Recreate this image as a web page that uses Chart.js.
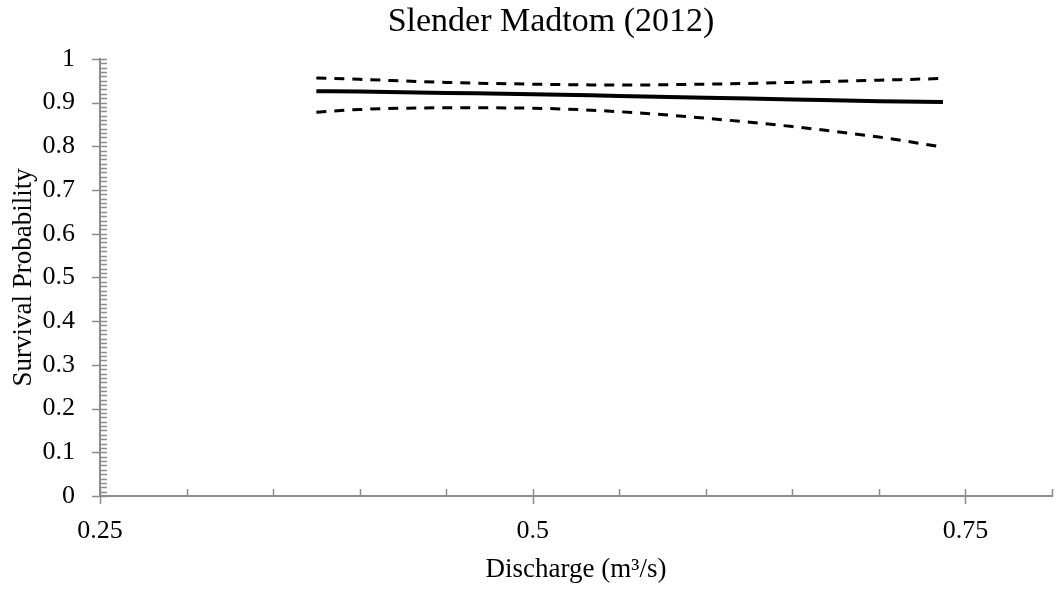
<!DOCTYPE html>
<html>
<head>
<meta charset="utf-8">
<title>Slender Madtom (2012)</title>
<script src="https://cdn.jsdelivr.net/npm/chart.js@4/dist/chart.umd.min.js"></script>
<style>
  html, body { margin: 0; padding: 0; background: #fff; }
  #wrap { width: 1056px; height: 589px; }
</style>
</head>
<body>
<div id="wrap"><canvas id="chart" width="1056" height="589"></canvas></div>
<script>
// discharge values (m3/s) where the curves were read
const discharge = [0.375, 0.4, 0.45, 0.5, 0.55, 0.6, 0.65, 0.7, 0.737];
// survival estimate and its upper/lower bounds
const survival = [0.926, 0.925, 0.922, 0.919, 0.915, 0.911, 0.907, 0.903, 0.901];
const upperBound = [0.956, 0.953, 0.946, 0.942, 0.940, 0.942, 0.946, 0.951, 0.955];
const lowerBound = [0.878, 0.884, 0.888, 0.887, 0.879, 0.864, 0.845, 0.821, 0.798];

// axis ranges and tick steps
const xMin = 0.25, xMax = 0.8, xMinorStep = 0.05, xMajorStep = 0.25;
const yMin = 0, yMax = 1, yMajorStep = 0.1, yMinorStep = 0.01;

const AXIS_COLOR = '#8c8c8c';
const FONT = "'Liberation Serif', 'Times New Roman', serif";

const isMultiple = (v, step) => Math.abs(v / step - Math.round(v / step)) < 1e-6;

const toPoints = ys => discharge.map((d, i) => ({ x: d, y: ys[i] }));

// Excel-style tick marks: majors cross the axis, minors sit inside
const axisTicks = {
  id: 'axisTicks',
  afterLayout(chart) {
    // title sits a little right of the canvas centre in the original
    if (chart.titleBlock) chart.titleBlock.left += 14;
  },
  afterDraw(chart) {
    const { ctx, scales: { x, y } } = chart;
    ctx.save();
    ctx.strokeStyle = AXIS_COLOR;
    ctx.lineWidth = 1.5;
    ctx.beginPath();
    const nx = Math.round((xMax - xMin) / xMinorStep);
    for (let i = 0; i <= nx; i++) {
      const v = xMin + i * xMinorStep;
      const px = Math.round(x.getPixelForValue(v)) + 0.5;
      ctx.moveTo(px, y.bottom - 7);
      ctx.lineTo(px, y.bottom + (isMultiple(v - xMin, xMajorStep) ? 8 : 0));
    }
    const ny = Math.round((yMax - yMin) / yMinorStep);
    for (let i = 0; i <= ny; i++) {
      const v = yMin + i * yMinorStep;
      const py = Math.round(y.getPixelForValue(v)) + 0.5;
      ctx.moveTo(x.left + 7, py);
      ctx.lineTo(x.left - (isMultiple(v, yMajorStep) ? 8 : 0), py);
    }
    ctx.stroke();
    ctx.restore();
  }
};

const lineStyle = {
  pointRadius: 0,
  borderColor: '#000',
  showLine: true,
  fill: false,
  cubicInterpolationMode: 'monotone'
};

new Chart(document.getElementById('chart'), {
  type: 'scatter',
  data: {
    datasets: [
      { ...lineStyle, label: 'Upper', data: toPoints(upperBound), borderWidth: 3, borderDash: [10, 8] },
      { ...lineStyle, label: 'Survival', data: toPoints(survival), borderWidth: 4 },
      { ...lineStyle, label: 'Lower', data: toPoints(lowerBound), borderWidth: 3, borderDash: [10, 8] }
    ]
  },
  options: {
    responsive: false,
    animation: false,
    layout: { padding: { left: 36, right: 4, top: 0, bottom: 0 } },
    plugins: {
      legend: { display: false },
      tooltip: { enabled: false },
      title: {
        display: true,
        text: 'Slender Madtom (2012)',
        color: '#000',
        font: { family: FONT, size: 34, weight: 'normal' },
        padding: { top: 2, bottom: 16 }
      }
    },
    scales: {
      x: {
        type: 'linear',
        min: xMin,
        max: xMax,
        grid: { display: false, drawTicks: false },
        border: { display: true, color: AXIS_COLOR, width: 2 },
        ticks: {
          stepSize: xMinorStep,
          autoSkip: false,
          maxRotation: 0,
          padding: 20,
          color: '#000',
          font: { family: FONT, size: 26 },
          callback: v => isMultiple(v - xMin, xMajorStep) ? String(+v.toFixed(2)) : ''
        },
        title: {
          display: true,
          text: 'Discharge (m³/s)',
          color: '#000',
          font: { family: FONT, size: 27 },
          padding: { top: 0, bottom: 3 }
        },
        afterFit: s => { s.height = 93; s.paddingRight = 0; }
      },
      y: {
        min: yMin,
        max: yMax,
        grid: { display: false, drawTicks: false },
        border: { display: true, color: AXIS_COLOR, width: 2 },
        ticks: {
          stepSize: yMajorStep,
          padding: 25,
          color: '#000',
          font: { family: FONT, size: 26 },
          callback: v => String(+v.toFixed(1))
        },
        title: {
          display: true,
          text: 'Survival Probability',
          color: '#000',
          font: { family: FONT, size: 27 },
          padding: { top: -28, bottom: 0 }
        },
        afterFit: s => { s.width = 64; }
      }
    }
  },
  plugins: [axisTicks]
});
</script>
</body>
</html>
